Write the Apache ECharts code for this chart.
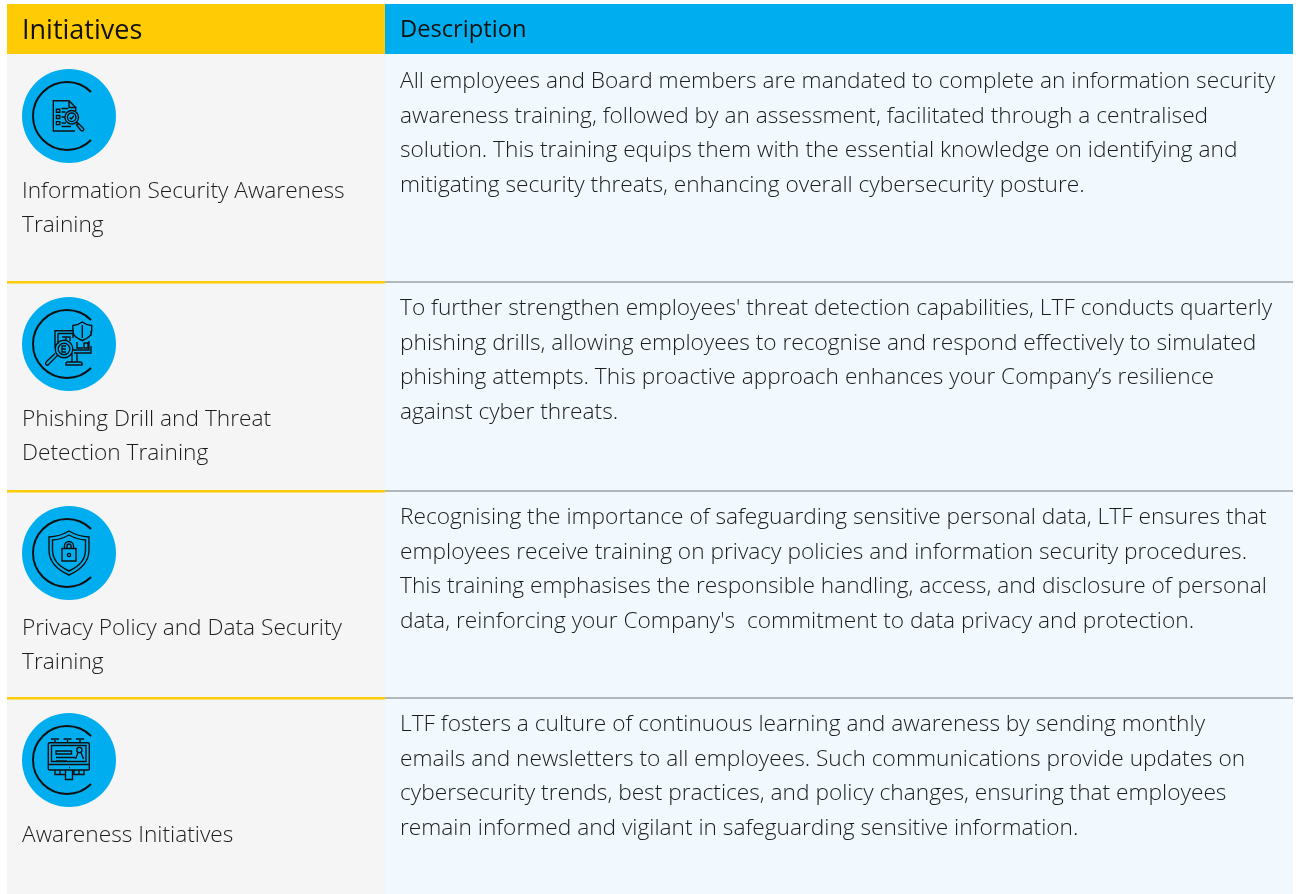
<!DOCTYPE html>
<html><head><meta charset="utf-8">
<style>html,body{margin:0;padding:0;background:#fff}#c{width:1298px;height:894px}</style>
<script src="https://cdn.jsdelivr.net/npm/echarts@6/dist/echarts.min.js"></script>
</head><body><div id="c"></div>
<script>
const headers = ['Initiatives', 'Description'];
const initiatives = [
  ['Information Security Awareness', 'Training'],
  ['Phishing Drill and Threat', 'Detection Training'],
  ['Privacy Policy and Data Security', 'Training'],
  ['Awareness Initiatives']
];
const descriptions = [
  ['All employees and Board members are mandated to complete an information security',
   'awareness training, followed by an assessment, facilitated through a centralised',
   'solution. This training equips them with the essential knowledge on identifying and',
   'mitigating security threats, enhancing overall cybersecurity posture.'],
  ["To further strengthen employees' threat detection capabilities, LTF conducts quarterly",
   'phishing drills, allowing employees to recognise and respond effectively to simulated',
   'phishing attempts. This proactive approach enhances your Company\u2019s resilience',
   'against cyber threats.'],
  ['Recognising the importance of safeguarding sensitive personal data, LTF ensures that',
   'employees receive training on privacy policies and information security procedures.',
   'This training emphasises the responsible handling, access, and disclosure of personal',
   "data, reinforcing your Company's  commitment to data privacy and protection."],
  ['LTF fosters a culture of continuous learning and awareness by sending monthly',
   'emails and newsletters to all employees. Such communications provide updates on',
   'cybersecurity trends, best practices, and policy changes, ensuring that employees',
   'remain informed and vigilant in safeguarding sensitive information.']
];

const FONT = '"Open Sans", "Noto Sans", sans-serif';
const L = 7, M = 385, R = 1293, HT = 4, HB = 54;
const rowEdges = [54, 282, 491, 698, 894];
const iconY = [116, 344, 553, 760];
const labelY = [192, 420, 629, 836];
const descY = [82, 309, 518, 725];
const labelStep = 34, descStep = 34.5;
const INK = '#101010', TXT = '#1c1c1c';

const icons = [
  // document with checklist and magnifier
  'M6.7 -8.5 L0 -15.3 L-15.7 -15.3 L-15.7 15 L6 15 M0 -15.3 L0 -8.5 L6.7 -8.5 L6.7 -5' +
  'M-12.6 -6.8 h3.4 v3 h-3.4 z M-12.6 -0.5 h3.4 v3 h-3.4 z M-12.6 5.6 h3.4 v3 h-3.4 z' +
  'M-7.5 -7.5 H-1 M-7.5 -4 H-3.5 M-7.5 1 H-4 M-7.5 7 H-3 M-7.5 10.5 H2' +
  'M9.5 1.3 A6.8 6.8 0 1 1 -4.1 1.3 A6.8 6.8 0 1 1 9.5 1.3 z M7 1.3 A4.3 4.3 0 1 1 -1.6 1.3 A4.3 4.3 0 1 1 7 1.3 z' +
  'M0.6 1.5 L2.2 3 L5 -0.2 M7.5 6.5 L9.5 8.5 M9 7 L14 12 Q15.5 13.5 14.2 14.5 Q13 15.5 11.5 14 L7.5 9 z',
  // monitor, shield and magnifier
  'M5 -13.3 H-14 V4 M5 9 H22 V2 M22 -13.3 V-8 M-11 -10.5 H4 V-6 M-11 -10.5 V0 M20 -3 V6 H6' +
  'M-7 -7 H1 V-3 M-3 -7 V-3 M8 -2 V4 H14 M15 -1 H19 V4 H15 z M4 6 H9' +
  'M13.3 -22 Q18 -18.5 22.7 -18.5 V-13 Q22.7 -7 13.3 -3.5 Q3.9 -7 3.9 -13 V-18.5 Q8.6 -18.5 13.3 -22 z M13.3 -19 V-6' +
  'M3 9 V18 M8 9 V18 M-3 21 V19 Q-3 18 -1 18 H11 Q13 18 13 19 V21 z' +
  'M3.8 5 A8.8 8.8 0 1 1 -13.8 5 A8.8 8.8 0 1 1 3.8 5 z M0.8 5 A5.8 5.8 0 1 1 -10.8 5 A5.8 5.8 0 1 1 0.8 5 z' +
  'M-3 5 H-7 V2 H-3 M-7 5 V8 H-3 M-11.5 11.5 L-20.5 20.5 Q-22 22 -23 20.5 Q-24 19 -22.5 17.5 L-14 9.5',
  // double shield with padlock
  'M0 -22 Q9 -16.5 20 -16 V-3 Q20 13 0 22 Q-20 13 -20 -3 V-16 Q-9 -16.5 0 -22 z' +
  'M0 -18 Q8 -13.5 16.5 -13 V-3 Q16.5 10.5 0 18 Q-16.5 10.5 -16.5 -3 V-13 Q-8 -13.5 0 -18 z' +
  'M-7 -4.5 H7 V8 H-7 z M-4.5 -4.5 V-7 A4.5 4.5 0 0 1 4.5 -7 V-4.5 M-2 -4.5 V-7 A2 2 0 0 1 2 -7 V-4.5' +
  'M1.6 2 A1.6 1.6 0 1 1 -1.6 2 A1.6 1.6 0 1 1 1.6 2 z',
  // billboard with ribbon
  'M-19 -17.3 H19 Q20.3 -17.3 20.3 -16 V9 Q20.3 10 19 10 H-19 Q-20.7 10 -20.7 9 V-16 Q-20.7 -17.3 -19 -17.3 z' +
  'M-20.7 4.5 H20.3 M-17.5 -14.5 H17 V1.5 H-17.5 z M-13 -9 H2.5 V-6 H-13 z M-13 -2.5 H6 M-13 1 H-2' +
  'M13 -10 A2.6 2.6 0 1 1 7.8 -10 A2.6 2.6 0 1 1 13 -10 z M9 -7.5 L6.5 -1 M12 -7.5 L14.5 -1' +
  'M-14 -17.3 V-20 M-18 -21 H-10 M-1.5 -17.3 V-20 M-5.5 -21 H2.5 M11 -17.3 V-20 M7 -21 H15' +
  'M-14 10 V14.5 H-9 V10 M-9 14.5 H-3.5 V10 M5 10 V14.5 H10 V10 M10 14.5 H15 V10 M-3.5 10 V19.5 H3.5 V10 M1 7.5 H0'
];
icons.forEach((d, i) => echarts.graphic.registerShape('icon' + i, echarts.graphic.extendPath(d)));

const g = [];
const text = (x, y, s, size, color, weight) => ({
  type: 'text', x, y,
  style: { text: s, fontFamily: FONT, fontSize: size, fontWeight: weight, fill: color, verticalAlign: 'middle', align: 'left' },
  silent: true
});
const rect = (x, y, w, h, fill) => ({ type: 'rect', shape: { x, y, width: w, height: h }, style: { fill }, silent: true });

g.push(rect(L, HB, M - L, rowEdges[4] - HB, '#f5f5f5'));
g.push(rect(M, HB, R - M, rowEdges[4] - HB, '#f1f9fe'));
g.push(rect(L, HT, M - L, HB - HT, '#ffcb05'));
g.push(rect(M, HT, R - M, HB - HT, '#00aeef'));
g.push(text(22, 31, headers[0], 27, '#111', 400));
g.push(text(400, 30, headers[1], 23.7, '#111', 400));

initiatives.forEach((lines, i) => {
  if (i > 0) {
    g.push(rect(L, rowEdges[i] - 1, M - L, 2.4, '#ffcb05'));
    g.push(rect(M, rowEdges[i] - 1, R - M, 2, '#b2b7ba'));
  }
  lines.forEach((s, k) => g.push(text(22, labelY[i] + k * labelStep, s, 22.7, TXT, 300)));
  descriptions[i].forEach((s, k) => g.push(text(400, descY[i] + k * descStep, s, 22.7, TXT, 300)));
  g.push({
    type: 'group', x: 69, y: iconY[i], silent: true,
    children: [
      { type: 'circle', shape: { cx: 0, cy: 0, r: 47 }, style: { fill: '#00aeef' } },
      { type: 'arc', shape: { cx: -2, cy: 0, r: 34, startAngle: -Math.PI * 0.25, endAngle: Math.PI * 0.25, clockwise: false },
        style: { stroke: INK, lineWidth: 2, fill: null } },
      { type: 'icon' + i, style: { stroke: INK, lineWidth: 1.4, fill: null } }
    ]
  });
});

const chart = echarts.init(document.getElementById('c'), null, { renderer: 'canvas' });
chart.setOption({ animation: false, backgroundColor: '#fff', graphic: { elements: g } });
</script></body></html>
